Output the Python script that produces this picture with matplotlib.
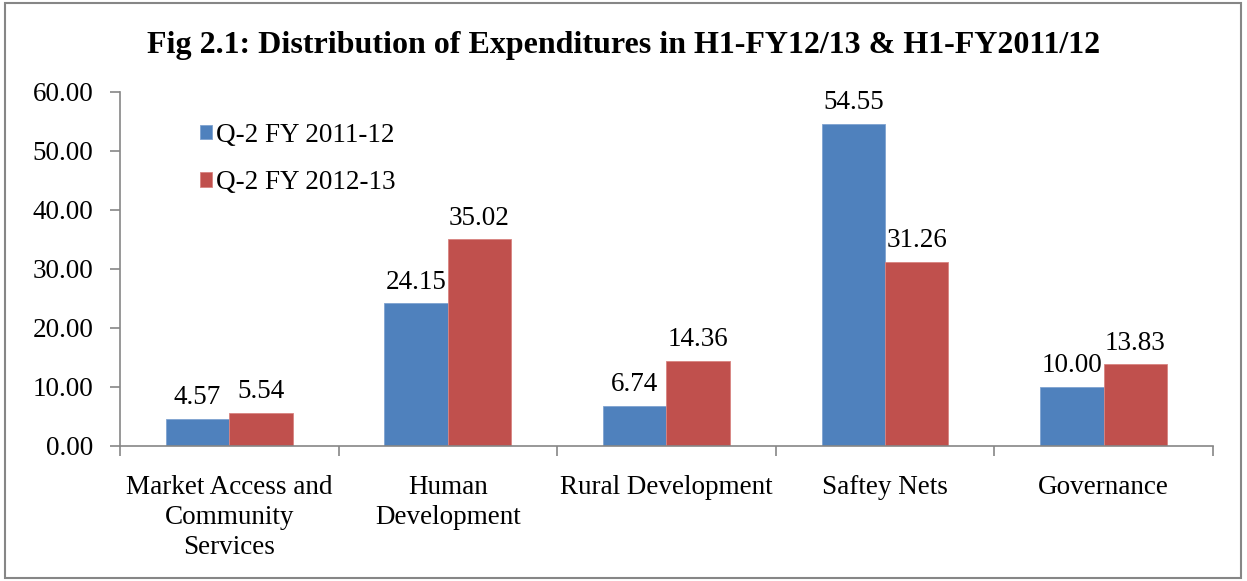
import numpy as np
import matplotlib.pyplot as plt
from matplotlib.patches import Rectangle

categories = ["Market Access and\nCommunity\nServices", "Human\nDevelopment",
              "Rural Development", "Saftey Nets", "Governance"]
fy_2011 = [4.57, 24.15, 6.74, 54.55, 10.00]
fy_2012 = [5.54, 35.02, 14.36, 31.26, 13.83]
series_names = ["Q-2 FY 2011-12", "Q-2 FY 2012-13"]

plt.rcParams['font.family'] = ['Liberation Serif', 'DejaVu Serif']
fs = 19.5

fig = plt.figure(figsize=(12.47, 5.81), dpi=100)
ax = fig.add_axes([0.0962, 0.2324, 0.8765, 0.6093])

x = np.arange(len(categories))
w = 0.29
b1 = ax.bar(x - w / 2, fy_2011, w, color='#4F81BD', edgecolor='#7FA3D0', lw=0.6,
            label=series_names[0])
b2 = ax.bar(x + w / 2, fy_2012, w, color='#C0504D', edgecolor='#D98481', lw=0.6,
            label=series_names[1])

for bars, vals in ((b1, fy_2011), (b2, fy_2012)):
    for r, v in zip(bars, vals):
        ax.text(r.get_x() + r.get_width() / 2, v + 1.5, f"{v:.2f}",
                ha='center', va='bottom', fontsize=fs)

ax.set_xlim(-0.5, len(categories) - 0.5)
ax.set_ylim(0, 60)
ax.set_yticks(np.arange(0, 61, 10))
ax.set_yticklabels([f"{v:.2f}" for v in np.arange(0, 61, 10)], fontsize=fs)

# category labels between boundary ticks
ax.set_xticks(np.arange(-0.5, len(categories), 1.0))
ax.set_xticklabels([])
ax.set_xticks(x, minor=True)
ax.set_xticklabels(categories, minor=True, fontsize=fs, linespacing=1.25)
ax.tick_params(axis='x', which='minor', length=0, pad=21)
ax.tick_params(axis='x', which='major', length=7, color='#868686', width=1.2)
ax.tick_params(axis='y', length=7, color='#868686', width=1.2, pad=12)

for s in ('top', 'right'):
    ax.spines[s].set_visible(False)
for s in ('left', 'bottom'):
    ax.spines[s].set_color('#868686')
    ax.spines[s].set_linewidth(1.2)

ax.legend(loc='upper left', bbox_to_anchor=(0.073, 0.913), frameon=False,
          fontsize=fs, handlelength=0.45, handleheight=0.45, borderpad=0,
          borderaxespad=0, handletextpad=0.15, labelspacing=0.83)

fig.text(0.5, 0.922, "Fig 2.1: Distribution of Expenditures in H1-FY12/13 & H1-FY2011/12",
         ha='center', va='center', fontsize=23, fontweight='bold')

fig.patches.append(Rectangle((0.004, 0.006), 0.991, 0.989, transform=fig.transFigure,
                             fill=False, edgecolor='#868686', lw=1.5))

fig.savefig("out.png", dpi=100)
